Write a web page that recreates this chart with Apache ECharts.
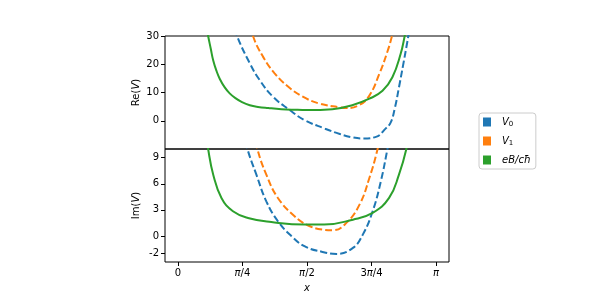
<!DOCTYPE html>
<html><head><meta charset="utf-8">
<script src="https://cdn.jsdelivr.net/npm/echarts@6/dist/echarts.min.js"></script>
<style>html,body{margin:0;padding:0;background:#fff}#c{width:600px;height:300px}</style>
</head><body><div id="c"></div>
<script>
const PI = Math.PI;
const xTicks = [0, PI / 4, PI / 2, 3 * PI / 4, PI];
const xTickLabels = ['0', '{i|π}/4', '{i|π}/2', '3{i|π}/4', '{i|π}'];
const reTicks = [0, 10, 20, 30];
const imTicks = [-2, 0, 3, 6, 9];
const seriesNames = ['V0', 'V1', 'eB'];

// Re(V) panel
const reV0x = [0.66, 0.72, 0.874, 0.995, 1.157, 1.36, 1.54, 1.78, 1.97, 2.13, 2.25, 2.41, 2.53, 2.59, 2.64, 2.69, 2.74, 2.78, 2.81, 2.84];
const reV0y = [36, 30, 20.4, 14.4, 8.5, 3.8, 0.25, -2.7, -4.7, -5.9, -6.25, -5.7, -2.7, -0.6, 4.5, 11.8, 19.6, 26, 31, 36.5];
const reV1x = [0.86, 0.914, 1.035, 1.177, 1.34, 1.52, 1.72, 1.97, 2.05, 2.21, 2.33, 2.45, 2.55, 2.605, 2.64];
const reV1y = [37, 30, 22.7, 16.8, 12.1, 8.5, 6.1, 4.75, 4.5, 5.6, 8.9, 16.5, 24.5, 30, 35];
const reEBx = [0.33, 0.368, 0.40, 0.43, 0.47, 0.51, 0.57, 0.63, 0.70, 0.78, 0.875, 0.975, 1.1, 1.26, 1.42, 1.57, 1.88, 2.13, 2.33, 2.49, 2.61, 2.71, 2.76, 2.80];
const reEBy = [36, 30, 25.5, 21.3, 17.6, 14.8, 11.8, 9.7, 8.0, 6.6, 5.5, 4.9, 4.5, 4.1, 3.9, 3.8, 4.1, 5.6, 7.8, 10.6, 15.4, 23.6, 30, 36];

// Im(V) panel
const imV0x = [0.80, 0.846, 0.955, 1.076, 1.217, 1.38, 1.54, 1.76, 1.93, 2.13, 2.25, 2.37, 2.47, 2.55, 2.59];
const imV0y = [12, 10, 7.05, 3.98, 1.69, 0, -1.18, -1.84, -2.07, -1.38, 0.15, 2.84, 6.3, 10, 12];
const imV1x = [0.93, 0.967, 1.076, 1.217, 1.42, 1.58, 1.76, 1.885, 2.05, 2.21, 2.33, 2.43, 2.47];
const imV1y = [12, 10, 7.05, 4.37, 2.26, 1.23, 0.72, 0.65, 1.5, 3.6, 6.67, 10, 12];
const imEBx = [0.34, 0.368, 0.43, 0.53, 0.67, 0.853, 1.137, 1.54, 1.78, 2.13, 2.37, 2.57, 2.69, 2.78, 2.81];
const imEBy = [12, 10, 7.05, 4.37, 2.84, 2.07, 1.6, 1.3, 1.3, 1.87, 2.64, 4.37, 7.05, 10, 12];

const colors = { V0: '#1f77b4', V1: '#ff7f0e', eB: '#2ca02c' };
const FONT = 'DejaVu Sans';
const pairs = (xs, ys) => xs.map((x, i) => [x, ys[i]]);

function mkSeries(name, xs, ys, idx) {
  return {
    type: 'line', name, xAxisIndex: idx, yAxisIndex: idx,
    data: pairs(xs, ys), showSymbol: false, smooth: 0.45, clip: true,
    color: colors[name],
    lineStyle: { color: colors[name], width: 2, type: name === 'eB' ? 'solid' : [7, 3] }
  };
}

const rich = { i: { fontStyle: 'italic', fontFamily: FONT, fontSize: 10, color: '#000' } };
const xCommon = {
  type: 'value', min: -0.157, max: 3.299,
  axisLine: { show: false, onZero: false }, splitLine: { show: false },
  axisTick: { show: true, customValues: xTicks, length: 4, lineStyle: { color: '#000', width: 1 } },
};
const yCommon = {
  type: 'value', splitLine: { show: false }, axisLine: { show: false, onZero: false },
  nameLocation: 'middle', nameGap: 24,
  nameTextStyle: { fontFamily: FONT, fontSize: 10, color: '#000', rich: { i: { fontStyle: 'italic', fontFamily: FONT, fontSize: 10 }, r: { fontFamily: FONT, fontSize: 10 } } },
  axisLabel: { fontFamily: FONT, fontSize: 10, color: '#000', margin: 6 },
};

const option = {
  animation: false,
  backgroundColor: '#fff',
  grid: [
    { left: 165, right: 151, top: 36, height: 113, show: true, borderColor: '#000', borderWidth: 1, backgroundColor: 'transparent' },
    { left: 165, right: 151, top: 149, height: 113, show: true, borderColor: '#000', borderWidth: 1, backgroundColor: 'transparent' }
  ],
  xAxis: [
    Object.assign({}, xCommon, { gridIndex: 0, axisTick: { show: false }, axisLabel: { show: false } }),
    Object.assign({}, xCommon, {
      gridIndex: 1,
      name: 'x', nameLocation: 'middle', nameGap: 21,
      nameTextStyle: { fontFamily: FONT, fontSize: 10, fontStyle: 'italic', color: '#000' },
      axisLabel: {
        customValues: xTicks, fontFamily: FONT, fontSize: 10, color: '#000', margin: 6, rich,
        formatter: v => { const k = xTicks.findIndex(t => Math.abs(t - v) < 1e-6); return k >= 0 ? xTickLabels[k] : ''; }
      }
    })
  ],
  yAxis: [
    Object.assign({}, yCommon, {
      gridIndex: 0, min: -10, max: 30,
      name: '{r|Re(}{i|V}{r|)}',
      axisTick: { show: true, customValues: reTicks, length: 4, lineStyle: { color: '#000', width: 1 } },
      axisLabel: Object.assign({}, yCommon.axisLabel, { customValues: reTicks })
    }),
    Object.assign({}, yCommon, {
      gridIndex: 1, min: -3, max: 10,
      name: '{r|Im(}{i|V}{r|)}',
      axisTick: { show: true, customValues: imTicks, length: 4, lineStyle: { color: '#000', width: 1 } },
      axisLabel: Object.assign({}, yCommon.axisLabel, { customValues: imTicks })
    })
  ],
  legend: {
    orient: 'vertical', left: 479, top: 113,
    padding: [4, 5, 4, 4], itemGap: 8, itemWidth: 8, itemHeight: 9,
    borderColor: '#cccccc', borderWidth: 1, borderRadius: 3, backgroundColor: '#fff',
    icon: 'rect',
    data: seriesNames.map(n => ({ name: n, icon: 'rect', itemStyle: { color: colors[n], borderWidth: 0 } })),
    formatter: n => ({ V0: '{i|V}{s|0}', V1: '{i|V}{s|1}', eB: '{i|eB/cħ}' })[n],
    textStyle: {
      fontFamily: FONT, fontSize: 10, color: '#000', padding: [0, 0, 0, 6],
      rich: {
        i: { fontStyle: 'italic', fontFamily: FONT, fontSize: 10, color: '#000' },
        s: { fontFamily: FONT, fontSize: 7, color: '#000', padding: [5, 0, 0, 0] }
      }
    }
  },
  series: [
    mkSeries('V0', reV0x, reV0y, 0),
    mkSeries('V1', reV1x, reV1y, 0),
    mkSeries('eB', reEBx, reEBy, 0),
    mkSeries('V0', imV0x, imV0y, 1),
    mkSeries('V1', imV1x, imV1y, 1),
    mkSeries('eB', imEBx, imEBy, 1)
  ]
};
const chart = echarts.init(document.getElementById('c'), null, { renderer: 'canvas' });
chart.setOption(option);
</script></body></html>
